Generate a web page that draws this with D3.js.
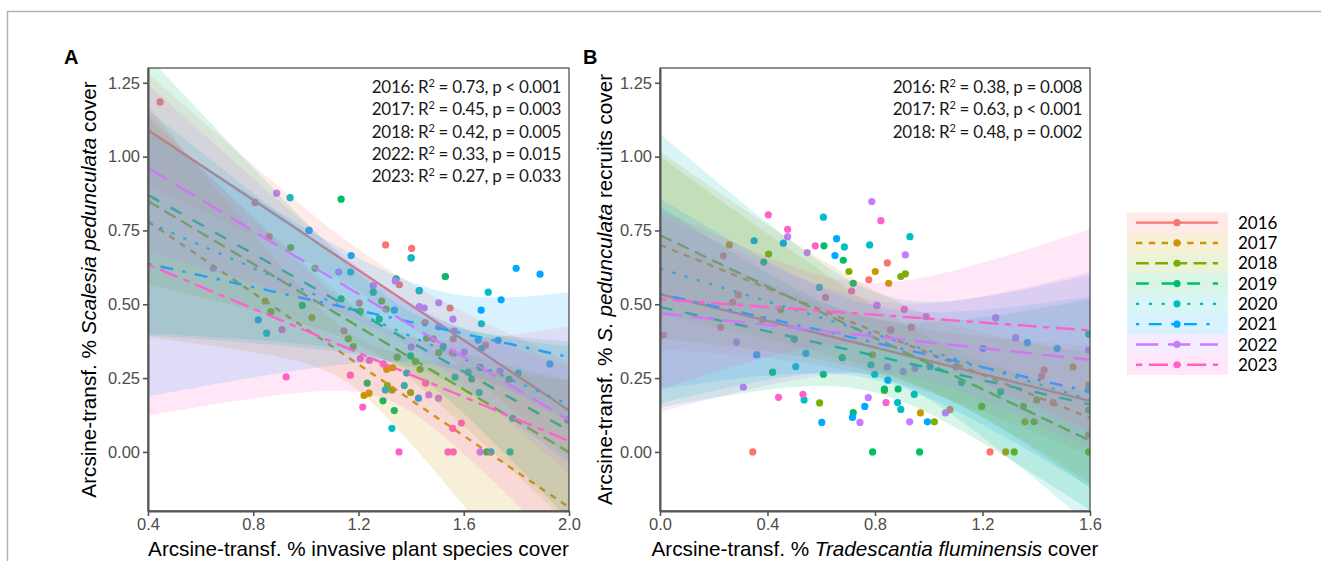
<!DOCTYPE html>
<html>
<head>
<meta charset="utf-8">
<script src="https://cdn.jsdelivr.net/npm/d3@7"></script>
<style>
  body { margin: 0; background: #fff; }
  svg { display: block; }
</style>
</head>
<body>
<div id="chart"></div>
<script>
// years / groups
const years = ["2016", "2017", "2018", "2019", "2020", "2021", "2022", "2023"];

// panel A: invasive plant cover (x) vs Scalesia cover (y)
const a2016 = [[0.446,1.185],[0.807,0.845],[0.861,0.729],[1.303,0.701],[1.402,0.689],[1.355,0.566],[1.203,0.504],[1.548,0.487],[1.145,0.41],[1.453,0.438],[1.485,0.383],[1.557,0.336],[1.56,0.383],[1.683,0.362]];
const a2017 = [[0.845,0.511],[1.023,0.455],[1.221,0.191],[1.24,0.199],[1.307,0.28],[1.33,0.285]];
const a2018 = [[0.942,0.692],[1.035,0.622],[1.288,0.511],[1.305,0.484],[0.867,0.475],[1.207,0.477],[1.161,0.383],[1.459,0.385],[1.505,0.336],[1.434,0.28],[1.347,0.321],[1.416,0.306],[1.398,0.201],[1.31,0.225],[1.327,0.21],[1.18,0.357]];
const a2019 = [[1.134,0.856],[1.53,0.594],[1.343,0.586],[1.256,0.541],[1.134,0.518],[0.986,0.496],[1.279,0.45],[1.522,0.357],[1.398,0.325],[1.772,0.246],[1.662,0.286],[1.63,0.247],[1.687,0],[1.293,0.173],[1.336,0.14],[1.233,0.233]];
const a2020 = [[0.94,0.861],[1.40,0.657],[1.17,0.609],[1.431,0.546],[1.693,0.541],[0.851,0.402],[1.655,0.378],[1.667,0.434],[1.667,0.35],[1.807,0.267],[1.617,0.27],[1.659,0.201],[1.567,0.253],[1.374,0.225],[1.327,0.08],[1.302,0.21],[1.776,0],[1.995,0.108]];
const a2021 = [[1.012,0.75],[1.172,0.665],[1.799,0.622],[1.89,0.602],[1.742,0.515],[1.336,0.48],[0.819,0.447],[1.666,0.48],[1.731,0.378],[1.786,0.114],[1.927,0.298],[1.383,0.267],[1.428,0.182],[1.703,0]];
const a2022 = [[0.889,0.876],[0.648,0.622],[1.125,0.609],[1.34,0.579],[1.256,0.563],[1.431,0.492],[1.45,0.487],[1.505,0.505],[1.559,0.45],[1.564,0.41],[1.505,0.423],[1.602,0.338],[1.738,0.274],[1.40,0.355],[1.467,0.193],[1.504,0.182],[1.662,0]];
const a2023 = [[1.558,0.08],[1.591,0.098],[1.354,0],[1.54,0],[1.56,0],[1.216,0.152],[0.925,0.254],[1.207,0.316],[1.294,0.298],[1.455,0.233],[1.241,0.31],[0.909,0.414],[1.169,0.26]];
// 2023 sites sitting under other markers (estimated)
const a2023hidden = [[1.012,0.75],[1.40,0.657],[1.431,0.546],[1.53,0.594]];

// panel B: Tradescantia cover (x) vs Scalesia recruits cover (y)
const b2016 = [[0.236,0.664],[0.846,0.64],[0.777,0.583],[0.616,0.523],[0.291,0.532],[0.27,0.507],[0.012,0.396],[0.226,0.422],[0.858,0.413],[0.935,0.422],[1.429,0.278],[1.42,0.257],[1.463,0.167],[1.228,0],[0.345,0],[1.079,0.143],[1.595,0.058]];
const b2017 = [[0.258,0.701],[0.801,0.611],[0.851,0.571],[0.381,0.448],[0.791,0.329],[1.537,0.288],[1.358,0.102],[1.286,0],[0.969,0.132],[1.595,0.227]];
const b2018 = [[0.404,0.67],[0.703,0.611],[0.896,0.594],[0.913,0.603],[0.449,0.482],[1.197,0.154],[1.352,0.154],[1.402,0.176],[1.392,0.102],[1.318,0],[0.835,0.208],[0.594,0.166],[1.021,0.102],[1.101,0.289],[1.595,0.142],[1.595,0]];
const b2019 = [[0.61,0.698],[0.386,0.643],[0.682,0.649],[0.719,0.571],[0.5,0.382],[0.678,0.319],[1.268,0.204],[0.791,0],[0.966,0],[0.419,0.27],[0.608,0.263],[0.719,0.133],[0.835,0.213],[0.886,0.213],[1.595,0.399]];
const b2020 = [[0.608,0.795],[0.93,0.729],[0.78,0.701],[0.686,0.694],[0.593,0.557],[0.505,0.289],[0.536,0.176],[0.785,0.295],[0.799,0.263],[0.884,0.167],[0.896,0.144],[0.946,0.195],[1.122,0.235],[1.595,0.21]];
const b2021 = [[0.35,0.715],[0.459,0.707],[0.657,0.722],[0.651,0.665],[0.36,0.329],[0.543,0.334],[1.367,0.37],[1.478,0.35],[1.202,0.35],[0.602,0.1],[0.716,0.117],[0.762,0.154],[0.848,0.243],[0.995,0.102],[1.005,0.289]];
const b2022 = [[0.788,0.848],[0.475,0.729],[0.548,0.675],[0.913,0.667],[0.807,0.496],[1.249,0.454],[0.285,0.372],[1.323,0.386],[0.31,0.219],[0.744,0.1],[0.775,0.184],[0.846,0.288],[0.905,0.272],[0.949,0.283],[0.929,0.102],[1.062,0.132],[1.595,0.345]];
const b2023 = [[0.403,0.803],[0.822,0.783],[0.475,0.754],[0.578,0.698],[0.713,0.545],[0.909,0.483],[0.99,0.458],[0.441,0.185],[0.532,0.195],[0.841,0.167]];
// 2023 sites sitting under other markers (estimated)
const b2023hidden = [[0.858,0.413],[0.935,0.422],[1.249,0.454],[0.807,0.496],[0.36,0.329],[0.5,0.382],[1.323,0.386]];

// regression stats printed in the panels: year, R2, p
const statsA = [["2016","0.73","< 0.001"],["2017","0.45","= 0.003"],["2018","0.42","= 0.005"],["2022","0.33","= 0.015"],["2023","0.27","= 0.033"]];
const statsB = [["2016","0.38","= 0.008"],["2017","0.63","< 0.001"],["2018","0.48","= 0.002"]];

const xTicksA = [0.4, 0.8, 1.2, 1.6, 2.0];
const xTicksB = [0.0, 0.4, 0.8, 1.2, 1.6];
const yTicks = [0, 0.25, 0.5, 0.75, 1.0, 1.25];

// ggplot hue palette + default linetypes
const colors = ["#F8766D", "#CD9600", "#7CAE00", "#00BE67", "#00BFC4", "#00A9FF", "#C77CFF", "#FF61CC"];
const ltys = [[], [2,2], [4,2], [4,4], [1,3], [1,3,4,3], [7,3], [2,2,6,2]];
const lw = 2.4, unit = 3.2, rPt = 3.6, ribbonAlpha = 0.15;
const sans = "'Liberation Sans', Arial, sans-serif";
const cal = "Lato, 'Open Sans', sans-serif";

const svg = d3.select("#chart").append("svg")
  .attr("width", 1321).attr("height", 561)
  .style("font-family", sans);

// outer frame
svg.append("path").attr("d", "M7.5,561V11.5H1321")
  .attr("fill", "none").attr("stroke", "#b3b3b3").attr("stroke-width", 1.5);

function tq(df) {
  // Cornish-Fisher approximation of the 0.975 t quantile
  const z = 1.959964;
  return z + (z**3 + z) / (4*df) + (5*z**5 + 16*z**3 + 3*z) / (96*df*df)
    + (3*z**7 + 19*z**5 + 17*z**3 - 15*z) / (384*df**3);
}

function smooth(pts, xs) {
  const n = pts.length;
  const mx = d3.mean(pts, d => d[0]), my = d3.mean(pts, d => d[1]);
  const sxx = d3.sum(pts, d => (d[0]-mx)**2);
  const sxy = d3.sum(pts, d => (d[0]-mx)*(d[1]-my));
  const b = sxy / sxx, a = my - b*mx;
  const s = Math.sqrt(d3.sum(pts, d => (d[1]-a-b*d[0])**2) / (n-2));
  const t = tq(n-2);
  return xs.map(x => {
    const yh = a + b*x, se = s*Math.sqrt(1/n + (x-mx)**2/sxx);
    return {x: x, y: yh, lo: yh - t*se, hi: yh + t*se};
  });
}

function panel(opt) {
  const x = d3.scaleLinear().domain(opt.xDomain).range([opt.left, opt.right]);
  const y = d3.scaleLinear().domain([-0.2, 1.3]).range([511, 68]);
  const g = svg.append("g");
  const clipId = "clip" + opt.label;
  svg.append("clipPath").attr("id", clipId).append("rect")
    .attr("x", opt.left).attr("y", 68).attr("width", opt.right - opt.left).attr("height", 443);

  const plot = g.append("g").attr("clip-path", `url(#${clipId})`);

  // points first (hidden ones underneath), smooths drawn over them
  opt.hidden.forEach((pts, i) => {
    plot.append("g").selectAll("circle").data(pts).join("circle")
      .attr("cx", d => x(d[0])).attr("cy", d => y(d[1])).attr("r", rPt)
      .attr("fill", colors[i]);
  });
  opt.groups.forEach((pts, i) => {
    plot.append("g").selectAll("circle").data(pts).join("circle")
      .attr("cx", d => x(d[0])).attr("cy", d => y(d[1])).attr("r", rPt)
      .attr("fill", colors[i]);
  });

  const xs = d3.range(81).map(k => opt.xDomain[0] + k*(opt.xDomain[1]-opt.xDomain[0])/80);
  const area = d3.area().x(d => x(d.x)).y0(d => y(d.lo)).y1(d => y(d.hi));
  const line = d3.line().x(d => x(d.x)).y(d => y(d.y));
  opt.groups.forEach((pts, i) => {
    const fit = smooth(pts.concat(opt.hidden[i]), xs);
    plot.append("path").attr("d", area(fit)).attr("fill", colors[i]).attr("fill-opacity", ribbonAlpha);
    plot.append("path").attr("d", line(fit)).attr("fill", "none")
      .attr("stroke", colors[i]).attr("stroke-width", lw)
      .attr("stroke-dasharray", ltys[i].map(v => v*unit).join(","));
  });

  // panel border
  g.append("rect").attr("x", opt.left).attr("y", 68)
    .attr("width", opt.right - opt.left).attr("height", 443)
    .attr("fill", "none").attr("stroke", "#333").attr("stroke-width", 1.1);

  const xAxis = g.append("g").attr("transform", "translate(0,511)")
    .call(d3.axisBottom(x).tickValues(opt.xTicks).tickFormat(d3.format(".1f")).tickSize(5).tickSizeOuter(0));
  const yAxis = g.append("g").attr("transform", `translate(${opt.left},0)`)
    .call(d3.axisLeft(y).tickValues(yTicks).tickFormat(d3.format(".2f")).tickSize(5).tickSizeOuter(0));
  [xAxis, yAxis].forEach(ax => {
    ax.select(".domain").attr("stroke", "#555").attr("stroke-width", 2);
    ax.selectAll(".tick line").attr("stroke", "#555").attr("stroke-width", 1.6);
    ax.selectAll(".tick text").attr("fill", "#4d4d4d").style("font-size", "16.5px")
      .style("font-family", sans);
  });
  xAxis.selectAll(".tick text").attr("dy", "0.71em").attr("y", 7);
  yAxis.selectAll(".tick text").attr("x", -8);

  // axis titles
  const xt = g.append("text").attr("x", (opt.left + opt.right)/2).attr("y", 556)
    .attr("text-anchor", "middle").style("font-size", "20.7px").attr("fill", "#000");
  opt.xTitle.forEach(p => xt.append("tspan").text(p[0]).style("font-style", p[1] ? "italic" : "normal"));
  const yt = g.append("text").attr("transform", `translate(${opt.yTitleX},289.5) rotate(-90)`)
    .attr("text-anchor", "middle").style("font-size", "20.7px").attr("fill", "#000");
  opt.yTitle.forEach(p => yt.append("tspan").text(p[0]).style("font-style", p[1] ? "italic" : "normal"));

  // panel tag
  g.append("text").attr("x", opt.tagX).attr("y", 64).text(opt.label)
    .style("font-size", "20px").style("font-weight", "bold");

  // stats annotation
  opt.stats.forEach((s, k) => {
    const t = g.append("text").attr("x", opt.right - 8).attr("y", 93 + k*22.3)
      .attr("text-anchor", "end").style("font-family", cal)
      .style("font-size", "17px").style("letter-spacing", "-0.3px").attr("fill", "#1a1a1a");
    t.append("tspan").text(`${s[0]}: R`);
    t.append("tspan").text("2").attr("dy", -6).style("font-size", "11px");
    t.append("tspan").text(` = ${s[1]}, p ${s[2]}`).attr("dy", 6);
  });
}

panel({
  label: "A", tagX: 64, left: 148, right: 569, xDomain: [0.4, 2.0], xTicks: xTicksA,
  groups: [a2016, a2017, a2018, a2019, a2020, a2021, a2022, a2023],
  hidden: [[], [], [], [], [], [], [], a2023hidden],
  stats: statsA, yTitleX: 96,
  xTitle: [["Arcsine-transf. % invasive plant species cover", false]],
  yTitle: [["Arcsine-transf. % ", false], ["Scalesia pedunculata", true], [" cover", false]]
});
panel({
  label: "B", tagX: 583, left: 660, right: 1090, xDomain: [0.0, 1.6], xTicks: xTicksB,
  groups: [b2016, b2017, b2018, b2019, b2020, b2021, b2022, b2023],
  hidden: [[], [], [], [], [], [], [], b2023hidden],
  stats: statsB, yTitleX: 612,
  xTitle: [["Arcsine-transf. % ", false], ["Tradescantia fluminensis", true], [" cover", false]],
  yTitle: [["Arcsine-transf. % ", false], ["S. pedunculata", true], [" recruits cover", false]]
});

// legend
const legend = svg.append("g");
const rowH = 20.3, legTop = 212.5;
years.forEach((yr, i) => {
  const cy = legTop + rowH*i + rowH/2;
  legend.append("rect").attr("x", 1127).attr("y", legTop + rowH*i).attr("width", 101).attr("height", rowH)
    .attr("fill", colors[i]).attr("fill-opacity", ribbonAlpha);
  legend.append("line").attr("x1", 1136).attr("x2", 1218).attr("y1", cy).attr("y2", cy)
    .attr("stroke", colors[i]).attr("stroke-width", lw)
    .attr("stroke-dasharray", ltys[i].map(v => v*unit).join(","));
  legend.append("circle").attr("cx", 1177).attr("cy", cy).attr("r", rPt).attr("fill", colors[i]);
  legend.append("text").attr("x", 1238).attr("y", cy).attr("dy", "0.36em").text(yr)
    .style("font-family", cal).style("font-size", "17px").attr("fill", "#000");
});
</script>
</body>
</html>
